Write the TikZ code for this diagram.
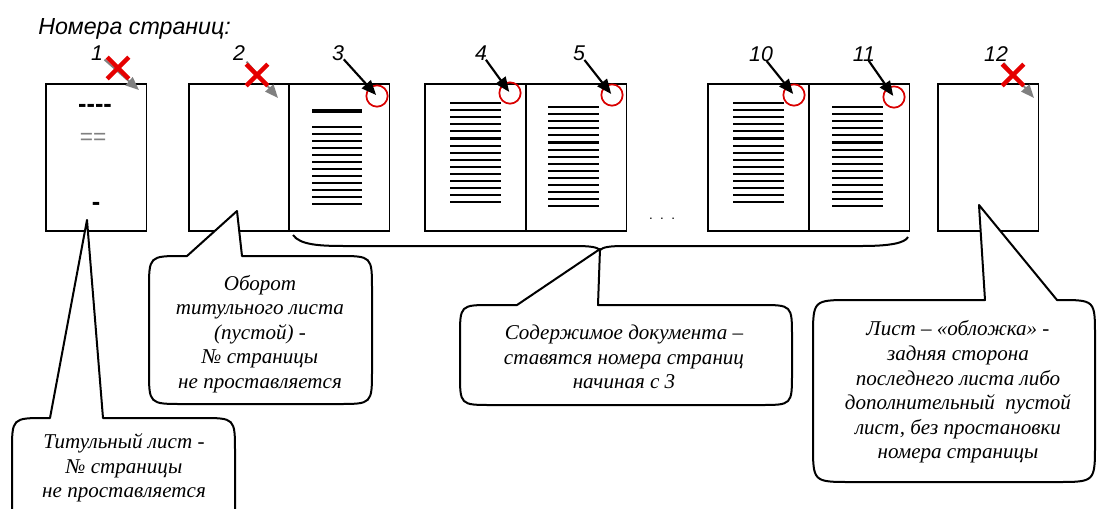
\documentclass[tikz,border=0pt]{standalone}
\usepackage{fontspec}
\setmainfont{Liberation Serif}
\newfontfamily\arialfont{Liberation Sans}
\usetikzlibrary{shapes.misc,arrows.meta}

\begin{document}
\begin{tikzpicture}[x=0.75pt, y=-0.75pt,
    page/.style={draw, line width=1.4pt, minimum width=75.4pt, minimum height=110.2pt, anchor=north west, inner sep=0pt},
    txtline/.style={line width=1.6pt},
    pagenum/.style={font=\arialfont\itshape\fontsize{16}{16}\selectfont, inner sep=1pt},
    numarrow/.style={-{Triangle[length=11pt,width=9pt]}, line width=1.6pt},
    grayarrow/.style={-{Triangle[length=10pt,width=8pt]}, line width=1.4pt, color=gray},
    pagemark/.style={circle, draw=red!85!black, line width=1.3pt, minimum size=16pt, inner sep=0pt},
    nonum/.style={cross out, draw=red!90!black, line width=3.2pt, minimum size=13pt, inner sep=0pt},
    callout/.style={draw, fill=white, line width=1.5pt, line join=round},
    calltext/.style={align=center, font=\itshape\fontsize{15.8}{18.4}\selectfont}]
    \useasboundingbox (0,0) rectangle (1097,508);
    \clip (0,0) rectangle (1097,508);

    % Title
    \node[anchor=west, inner sep=0pt, font=\arialfont\itshape\fontsize{17.4}{17.4}\selectfont] (title) at (38,29) {Номера страниц:};

    % Pages
    \node[page] (p1) at (45,83) {};
    \node[page] (p2) at (188,83) {};
    \node[page] (p3) at (288,83) {};
    \node[page] (p4) at (424,83) {};
    \node[page] (p5) at (525,83) {};
    \node[page] (p10) at (707,83) {};
    \node[page] (p11) at (808,83) {};
    \node[page] (p12) at (937,83) {};
    \node[anchor=base, font=\arialfont] (dots) at (662,219) {.\ \ .\ \ .};

    % Title page
    \node[font=\arialfont\bfseries\fontsize{19}{19}\selectfont] (dash1) at (95,108) {-{}-{}-{}-};
    \node[text=gray, font=\arialfont\fontsize{17}{17}\selectfont] (dash2) at (93,139) {==};
    \node[font=\arialfont\bfseries\fontsize{19}{19}\selectfont] (dash3) at (96,206) {-};

    % Text on pages
    \draw[line width=3pt] (312,111) -- (362,111);
    \foreach \k in {0,...,11}
        \draw[txtline] (312,{126.7+7.05*\k}) -- (362,{126.7+7.05*\k});
    \foreach \x/\y in {450/103, 733/103, 548/107, 832/107}
        \foreach \k in {0,...,14}
            \draw[txtline] (\x,{\y+7.1*\k}) -- (\x+51,{\y+7.1*\k});

    % Page numbers
    \node[pagenum] (n1) at (97,53) {1};
    \node[pagenum] (n2) at (239,53) {2};
    \node[pagenum] (n3) at (338,53) {3};
    \node[pagenum] (n4) at (481,53) {4};
    \node[pagenum] (n5) at (579,53) {5};
    \node[pagenum] (n10) at (761,54) {10};
    \node[pagenum] (n11) at (864,54) {11};
    \node[pagenum] (n12) at (996,54) {12};

    % Pages without number
    \coordinate (g1) at (139,90);
    \coordinate (g2) at (278,98);
    \coordinate (g12) at (1034,98);
    \draw[grayarrow] (n1) -- (g1);
    \draw[grayarrow] (n2) -- (g2);
    \draw[grayarrow] (n12) -- (g12);
    \node[nonum] (x1) at (118,68) {};
    \node[nonum] (x2) at (257,75) {};
    \node[nonum] (x12) at (1013,75) {};

    % Pages with number
    \node[pagemark] (c3) at (377,96) {};
    \node[pagemark] (c4) at (510,93) {};
    \node[pagemark] (c5) at (612,95) {};
    \node[pagemark] (c10) at (794,95) {};
    \node[pagemark] (c11) at (894,97) {};
    \foreach \i in {3,4,5,10,11}
        \draw[numarrow, shorten >=1pt, shorten <=-2pt] (n\i) -- (c\i.center);

    % Brace
    \draw[line width=1.5pt] (293,235) .. controls (300,245) and (320,246) .. (345,246) -- (575,246)
        .. controls (590,246) and (597,247) .. (600,250) .. controls (603,247) and (610,246) .. (625,246)
        -- (862,246) .. controls (890,246) and (905,243) .. (908,237);

    % Callouts
    \draw[callout] (50,418) -- (87,220) -- (103,418) -- (201,418) .. controls (235,418) .. (235,452)
        -- (235,522) -- (12,522) -- (12,452) .. controls (12,418) .. (46,418) -- cycle;
    \node[calltext] (t1) at (124,468) {Титульный лист -\\№ страницы\\не проставляется};

    \draw[callout] (187,256) -- (237,211) -- (242,256) -- (338,256) .. controls (372,256) .. (372,290)
        -- (372,370) .. controls (372,404) .. (338,404) -- (183,404) .. controls (149,404) .. (149,370)
        -- (149,290) .. controls (149,256) .. (183,256) -- cycle;
    \node[calltext] (t2) at (260,334) {Оборот\\титульного листа\\(пустой) -\\№ страницы\\не проставляется};

    \draw[callout] (517,305) -- (600,249) -- (598,305) -- (760,305) .. controls (792,305) .. (792,337)
        -- (792,373) .. controls (792,405) .. (760,405) -- (492,405) .. controls (460,405) .. (460,373)
        -- (460,337) .. controls (460,305) .. (492,305) -- cycle;
    \node[calltext] (t3) at (624,357) {Содержимое документа –\\ставятся номера страниц\\начиная с 3};

    \draw[callout] (985,300) -- (979,205) -- (1057,300) -- (1059,300) .. controls (1095,300) .. (1095,336)
        -- (1095,444) .. controls (1095,482) .. (1057,482) -- (851,482) .. controls (813,482) .. (813,444)
        -- (813,338) .. controls (813,300) .. (851,300) -- cycle;
    \node[calltext] (t4) at (958,392) {Лист – «обложка» -\\задняя сторона\\последнего листа либо\\дополнительный \ пустой\\лист, без простановки\\номера страницы};
\end{tikzpicture}
\end{document}
